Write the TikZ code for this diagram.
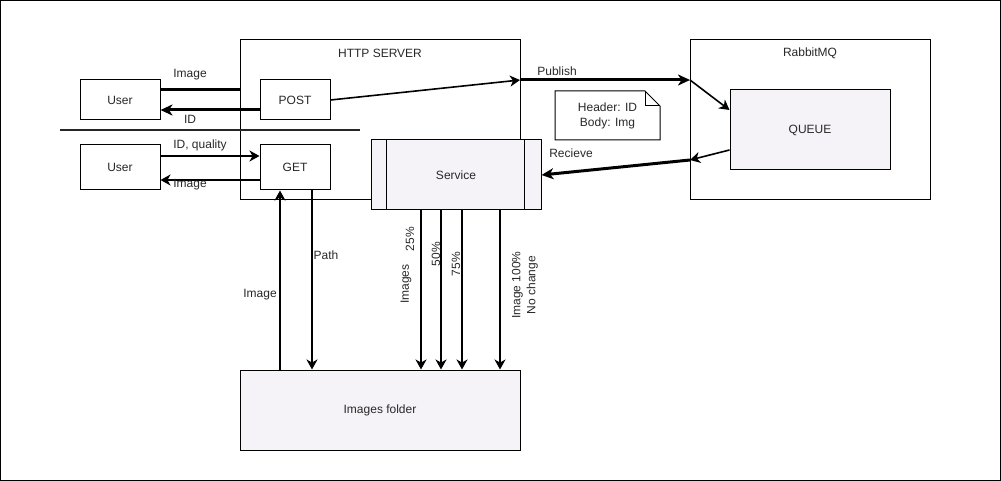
\documentclass[tikz,border=0pt]{standalone}
\usepackage{fontspec}
\setmainfont{Liberation Sans}
\usetikzlibrary{arrows.meta}
\definecolor{boxfill}{RGB}{245,243,247}
\definecolor{txt}{RGB}{40,40,40}
\begin{document}
\begin{tikzpicture}[x=1pt,y=-1pt,
  every node/.style={font=\fontsize{12}{15}\selectfont, text=txt, inner sep=0pt},
  box/.style={draw=black, line width=1pt, rectangle},
  arr/.style={draw=black, line width=1.6pt, -{Stealth[length=10pt,width=11pt,inset=3pt]}},
  thickarr/.style={draw=black, line width=3pt, -{Stealth[length=12pt,width=11pt,inset=3.5pt]}},
  thickline/.style={draw=black, line width=3pt},
]
\useasboundingbox (0,0) rectangle (1001,481);
\draw[line width=1.2pt] (0.6,0.6) rectangle (1000.4,480.4);

% containers
\node[box, minimum width=280pt, minimum height=160pt] (http) at (380,120) {};
\node (httplbl) at (380,53) {HTTP SERVER};
\node[box, minimum width=240pt, minimum height=160pt] (rmq) at (810,120) {};
\node (rmqlbl) at (810,53) {RabbitMQ};

% boxes
\node[box, fill=white, minimum width=80pt, minimum height=40pt] (u1) at (120,100) {User};
\node[box, fill=white, minimum width=80pt, minimum height=45pt] (u2) at (120,167.5) {User};
\node[box, fill=white, minimum width=70pt, minimum height=40pt] (post) at (295,100) {POST};
\node[box, fill=white, minimum width=70pt, minimum height=45pt] (get) at (295,167.5) {GET};
\node[box, fill=boxfill, minimum width=160pt, minimum height=80pt] (queue) at (810,130) {QUEUE};
\node[box, fill=boxfill, minimum width=170pt, minimum height=70pt] (svc) at (456,175) {Service};
\draw[line width=1pt] ([xshift=16pt]svc.north west) -- ([xshift=16pt]svc.south west);
\draw[line width=1pt] ([xshift=-17pt]svc.north east) -- ([xshift=-17pt]svc.south east);
\node[box, fill=boxfill, minimum width=280pt, minimum height=80pt] (folder) at (380,410) {Images folder};

% separator
\coordinate (sepA) at (60,130);
\coordinate (sepB) at (360,130);
\draw[line width=1.6pt, draw=black!85] (sepA) -- (sepB);

% note
\draw[line width=1pt, fill=white] (555,91) -- (645,91) -- (660,106) -- (660,140) -- (555,140) -- cycle;
\draw[line width=1pt] (645,91) -- (645,106) -- (660,106);
\node[align=center] (note) at (607.5,115.5) {Header: ID\\Body: Img};

% POST side
\draw[thickline] ([yshift=10pt]u1.east) -- ([yshift=10pt]u1.east -| http.west);
\node (limg1) at (190,75) {Image};
\draw[thickarr] ([yshift=-10pt]post.west) -- ([yshift=-10pt]u1.east);
\node (lid) at (190,119) {ID};

% GET side
\draw[arr] ([yshift=11.5pt]u2.east) -- ([yshift=11.5pt]get.west);
\node (lidq) at (200,145) {ID, quality};
\draw[arr] ([yshift=-12.5pt]get.west) -- ([yshift=-12.5pt]u2.east);
\node (limg2) at (190,185) {Image};

% publish
\coordinate (pub1) at (520,80);
\coordinate (pub2) at (690,80);
\draw[arr] (post.east) -- (pub1);
\draw[thickarr] (pub1) -- (pub2);
\draw[arr] (pub2) -- ([yshift=20pt]queue.west);
\node (lpub) at (557,71) {Publish};

% receive
\coordinate (rc1) at (690,160);
\draw[arr] ([yshift=-20pt]queue.west) -- (rc1);
\draw[thickarr] (rc1) -- (svc.east);
\node (lrec) at (571,153) {Recieve};

% GET <-> folder
\coordinate (ia) at ([xshift=-15pt]get.south);
\coordinate (pa) at ([xshift=17pt]get.south);
\draw[arr] (ia |- folder.north) -- (ia);
\node (limg3) at (260,295) {Image};
\draw[arr] (pa) -- (pa |- folder.north);
\node (lpath) at (326,255) {Path};

% service -> folder
\coordinate (s1) at ([xshift=-35pt]svc.south);
\coordinate (s2) at ([xshift=-15pt]svc.south);
\coordinate (s3) at ([xshift=6pt]svc.south);
\coordinate (s4) at ([xshift=44pt]svc.south);
\draw[arr] (s1) -- (s1 |- folder.north);
\draw[arr] (s2) -- (s2 |- folder.north);
\draw[arr] (s3) -- (s3 |- folder.north);
\draw[arr] (s4) -- (s4 |- folder.north);
\node[rotate=90] (l25a) at (406,284) {Images};
\node[rotate=90] (l25b) at (410,239) {25\%};
\node[rotate=90] (l50) at (436,254) {50\%};
\node[rotate=90] (l75) at (456,264) {75\%};
\node[rotate=90, align=center] (l100) at (525,285) {Image 100\%\\No change};
\end{tikzpicture}
\end{document}
